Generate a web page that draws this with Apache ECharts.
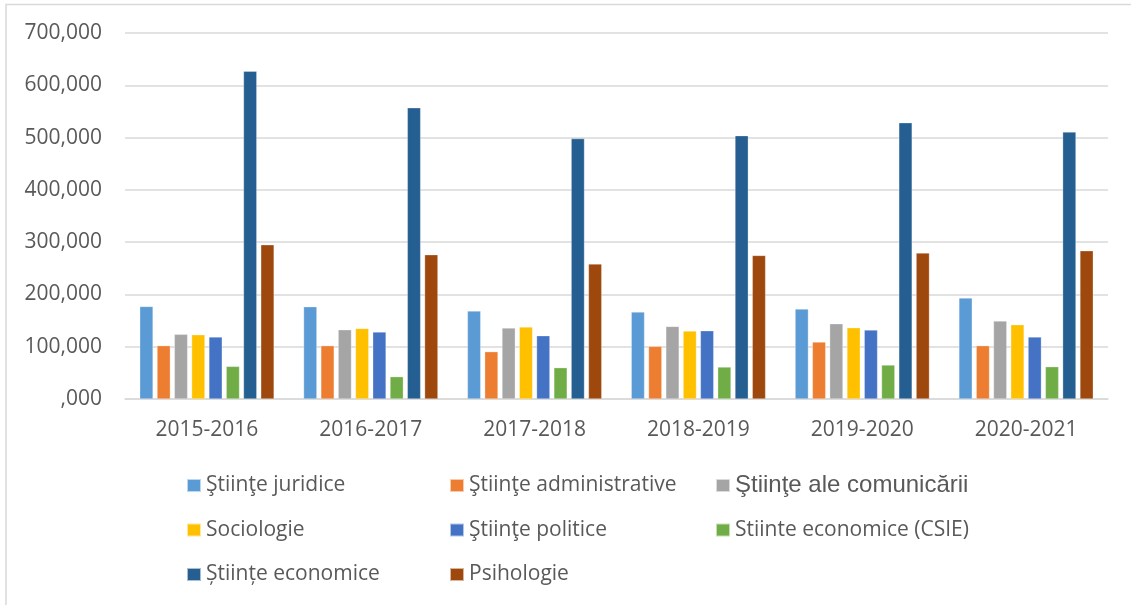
<!DOCTYPE html>
<html>
<head>
<meta charset="utf-8">
<script src="https://cdn.jsdelivr.net/npm/echarts@6/dist/echarts.min.js"></script>
<style>
  html, body { margin: 0; padding: 0; background: #fff; }
  #chart { width: 1131px; height: 605px; }
</style>
</head>
<body>
<div id="chart"></div>
<script>
// ani universitari
const years = ['2015-2016', '2016-2017', '2017-2018', '2018-2019', '2019-2020', '2020-2021']

const juridice = [177000, 176500, 168300, 166400, 172100, 193200]
const administrative = [102000, 102000, 90500, 100600, 109000, 102000]
const comunicarii = [123600, 132500, 135800, 138900, 144000, 149200]
const sociologie = [123000, 135000, 137700, 130000, 136400, 142100]
const politice = [118600, 128100, 121000, 130600, 132000, 118600]
const csie = [62400, 42700, 59900, 61200, 65000, 61800]
const economice = [627000, 557000, 498000, 503600, 528400, 510600]
const psihologie = [295000, 276000, 258200, 274600, 279200, 283600]

const names = [
  'Ştiinţe juridice',
  'Ştiinţe administrative',
  'Ştiinţe ale comunicării',
  'Sociologie',
  'Ştiinţe politice',
  'Stiinte economice (CSIE)',
  'Științe economice',
  'Psihologie',
]
const values = [juridice, administrative, comunicarii, sociologie, politice, csie, economice, psihologie]
const colors = ['#5B9BD5', '#ED7D31', '#A5A5A5', '#FFC000', '#4472C4', '#70AD47', '#255E91', '#9E480E']

const font = "'Open Sans', sans-serif"

function fmt(v) {
  if (v === 0) return ',000'
  return v.toLocaleString('en-US')
}

function legendCol(left, data) {
  return {
    orient: 'vertical',
    left: left,
    top: 473.5,
    padding: 0,
    itemWidth: 14,
    itemHeight: 13,
    itemGap: 20.5,
    icon: 'rect',
    data: data,
    textStyle: {
      fontFamily: font,
      fontSize: 21,
      color: '#595959',
      lineHeight: 24,
      rich: {
        arial: { fontFamily: "'Liberation Sans', Arial, sans-serif", fontSize: 24, lineHeight: 24, color: '#595959' },
      },
    },
    formatter: name => (name === 'Ştiinţe ale comunicării' ? '{arial|' + name + '}' : name),
  }
}

const chart = echarts.init(document.getElementById('chart'))

chart.setOption({
  animation: false,
  backgroundColor: '#fff',
  color: colors,
  grid: {
    left: 125,
    right: 23,
    top: 33,
    bottom: 206,
  },
  legend: [
    legendCol(186, [names[0], names[3], names[6]]),
    legendCol(449, [names[1], names[4], names[7]]),
    legendCol(715, [names[2], names[5]]),
  ],
  xAxis: {
    type: 'category',
    data: years,
    axisTick: { show: false },
    axisLine: { lineStyle: { color: '#d9d9d9', width: 1.5 } },
    axisLabel: { fontFamily: font, fontSize: 21, color: '#595959', margin: 21 },
  },
  yAxis: {
    type: 'value',
    min: 0,
    max: 700000,
    interval: 100000,
    axisLine: { show: false },
    axisTick: { show: false },
    splitLine: { lineStyle: { color: '#d9d9d9', width: 1.5 } },
    axisLabel: { fontFamily: font, fontSize: 21, color: '#595959', margin: 23, formatter: fmt },
  },
  series: names.map((n, i) => ({
    name: n,
    type: 'bar',
    data: values[i],
    barGap: '30%',
    barCategoryGap: '18%',
    itemStyle: { borderColor: 'rgba(255,255,255,0.6)', borderWidth: 0.5 },
  })),
  graphic: [
    {
      type: 'polyline',
      shape: { points: [[6, 605], [6, 4.5], [1131, 4.5]] },
      style: { stroke: '#d9d9d9', lineWidth: 1.5, fill: null },
      silent: true,
    },
  ],
})
</script>
</body>
</html>
